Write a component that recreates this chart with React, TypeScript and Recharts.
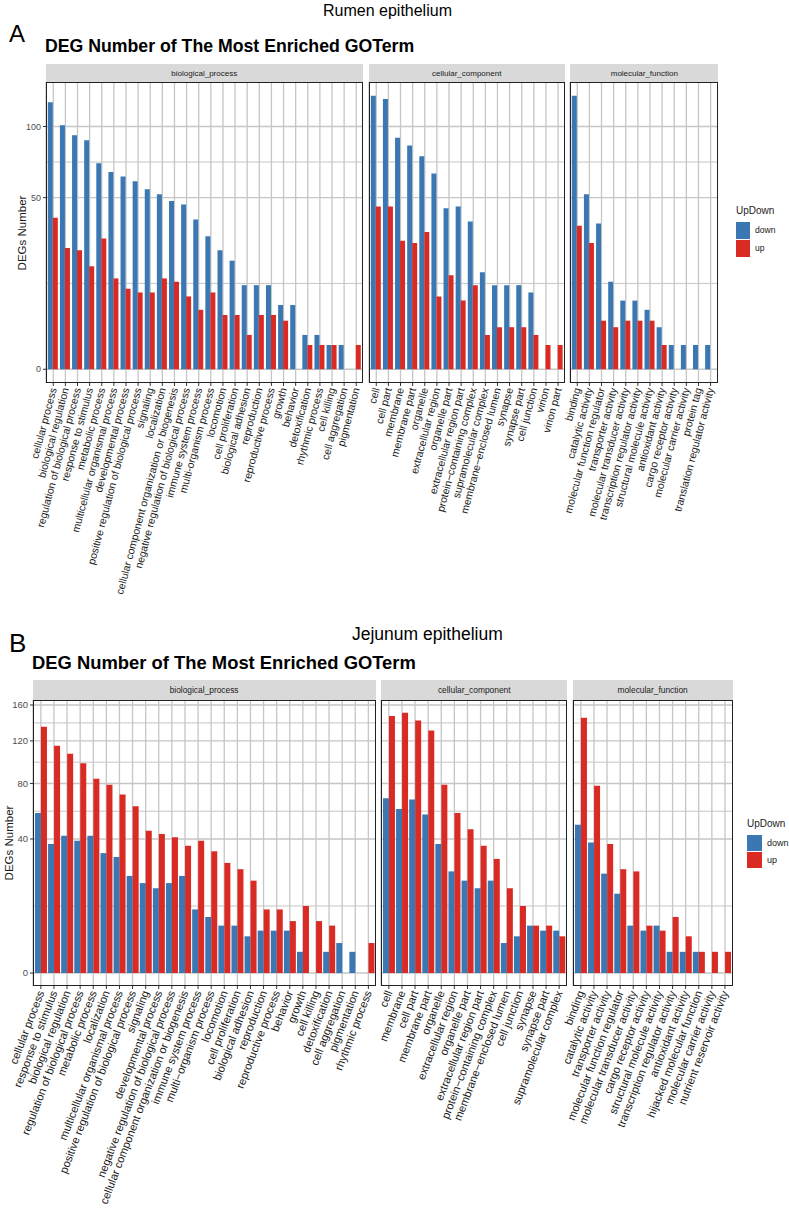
import React from "react";
import { BarChart, Bar, XAxis, YAxis, CartesianGrid } from "recharts";

// ---- Rumen epithelium (A) ----
const rumenBpNames = [
  "cellular process", "biological regulation", "regulation of biological process", "response to stimulus",
  "metabolic process", "multicellular organismal process", "developmental process",
  "positive regulation of biological process", "signaling", "localization",
  "cellular component organization or biogenesis", "negative regulation of biological process",
  "immune system process", "multi-organism process", "locomotion", "cell proliferation",
  "biological adhesion", "reproduction", "reproductive process", "growth", "behavior",
  "detoxification", "rhythmic process", "cell killing", "cell aggregation", "pigmentation",
];
const rumenBpDown = [121, 101, 93, 89, 72, 66, 63, 60, 55, 52, 48, 46, 38, 30, 24, 20, 12, 12, 12, 7, 7, 2, 2, 1, 1, 0];
const rumenBpUp = [39, 25, 24, 18, 29, 14, 11, 10, 10, 14, 13, 9, 6, 10, 5, 5, 2, 5, 5, 4, 0, 1, 1, 1, 0, 1];

const rumenCcNames = [
  "cell", "cell part", "membrane", "membrane part", "organelle", "extracellular region", "organelle part",
  "extracellular region part", "protein\u2212containing complex", "supramolecular complex",
  "membrane\u2212enclosed lumen", "synapse", "synapse part", "cell junction", "virion", "virion part",
];
const rumenCcDown = [127, 124, 91, 85, 77, 65, 44, 45, 37, 16, 12, 12, 12, 10, 0, 0];
const rumenCcUp = [45, 45, 28, 27, 32, 9, 15, 8, 12, 2, 3, 3, 3, 2, 1, 1];

const rumenMfNames = [
  "binding", "catalytic activity", "molecular function regulator", "transporter activity",
  "molecular transducer activity", "transcription regulator activity", "structural molecule activity",
  "antioxidant activity", "cargo receptor activity", "molecular carrier activity", "protein tag",
  "translation regulator activity",
];
const rumenMfDown = [127, 52, 36, 13, 8, 8, 6, 3, 1, 1, 1, 1];
const rumenMfUp = [35, 27, 4, 3, 4, 4, 4, 1, 0, 0, 0, 0];

// ---- Jejunum epithelium (B) ----
const jejBpNames = [
  "cellular process", "response to stimulus", "biological regulation", "regulation of biological process",
  "metabolic process", "localization", "multicellular organismal process",
  "positive regulation of biological process", "signaling", "developmental process",
  "negative regulation of biological process", "cellular component organization or biogenesis",
  "immune system process", "multi\u2212organism process", "locomotion", "cell proliferation",
  "biological adhesion", "reproduction", "reproductive process", "behavior", "growth", "cell killing",
  "detoxification", "cell aggregation", "pigmentation", "rhythmic process",
];
const jejBpDown = [57, 37, 42, 39, 42, 32, 30, 21, 18, 16, 18, 21, 9, 7, 5, 5, 3, 4, 4, 4, 1, 0, 1, 2, 1, 0];
const jejBpUp = [135, 115, 107, 98, 84, 79, 71, 62, 45, 43, 41, 36, 39, 33, 27, 24, 19, 9, 9, 6, 10, 6, 5, 0, 0, 2];

const jejCcNames = [
  "cell", "membrane", "cell part", "membrane part", "organelle", "extracellular region", "organelle part",
  "extracellular region part", "protein\u2212containing complex", "membrane\u2212enclosed lumen",
  "cell junction", "synapse", "synapse part", "supramolecular complex",
];
const jejCcDown = [68, 60, 67, 56, 37, 23, 19, 16, 19, 2, 3, 5, 4, 4];
const jejCcUp = [147, 151, 142, 131, 79, 57, 46, 36, 29, 16, 10, 5, 5, 3];

const jejMfNames = [
  "binding", "catalytic activity", "transporter activity", "molecular function regulator",
  "molecular transducer activity", "cargo receptor activity", "structural molecule activity",
  "transcription regulator activity", "antioxidant activity", "hijacked molecular function",
  "molecular carrier activity", "nutrient reservoir activity",
];
const jejMfDown = [49, 38, 22, 14, 5, 4, 5, 1, 1, 1, 0, 0];
const jejMfUp = [145, 78, 37, 24, 23, 5, 4, 7, 3, 1, 1, 1];

const rumenTicks = [0, 50, 100];
const rumenMinor = [12.5, 72.86];
const jejTicks = [0, 40, 80, 120, 160];
const jejMinor = [10, 58.3, 99, 139.3];

const BLUE = "#3b78b3";
const RED = "#d92a24";
const FONT = "'Liberation Sans', Arial, Helvetica, sans-serif";
const GRID = "#c6c6c6";

const RotTick = (props: any) => {
  const { x, y, payload, fs, angle } = props;
  return (
    <g transform={`translate(${x},${y})`}>
      <text
        transform={`rotate(${-angle})`}
        textAnchor="end"
        dy="0.35em"
        fontSize={fs}
        fill="#1a1a1a"
        fontFamily={FONT}
      >
        {payload.value}
      </text>
    </g>
  );
};

type FacetProps = {
  names: string[];
  down: number[];
  up: number[];
  s: number;
  left: number;
  top: number;
  plotH: number;
  xH: number;
  domain: number[];
  major: number[];
  minor: number[];
  showY: boolean;
  yW: number;
  fs: number;
  angle: number;
  yfs: number;
  strip: string;
  stripH: number;
  stripFs: number;
};

const Facet = (p: FacetProps) => {
  const n = p.names.length;
  const plotW = (n - 1 + 1.2) * p.s;
  const data = p.names.map((name, i) => ({ name, down: p.down[i], up: p.up[i] }));
  const yW = p.showY ? p.yW : 0;
  const extraL = 110; // room for the slanted labels that lean left of the panel
  return (
    <>
      <div
        style={{
          position: "absolute",
          left: p.left,
          top: p.top - p.stripH,
          width: plotW,
          height: p.stripH,
          background: "#d9d9d9",
          display: "flex",
          alignItems: "center",
          justifyContent: "center",
          fontSize: p.stripFs,
          color: "#1a1a1a",
          fontFamily: FONT,
        }}
      >
        {p.strip}
      </div>
      <div style={{ position: "absolute", left: p.left - yW - extraL, top: p.top }}>
        <BarChart
          width={plotW + yW + extraL}
          height={p.plotH + p.xH}
          data={data}
          margin={{ top: 0, right: 0, bottom: 0, left: extraL }}
          barCategoryGap="5%"
          barGap={0}
        >
          <CartesianGrid horizontal={false} stroke={GRID} strokeWidth={1.3} />
          <CartesianGrid vertical={false} horizontalValues={p.minor} stroke={GRID} strokeWidth={1} />
          <CartesianGrid vertical={false} horizontalValues={p.major} stroke={GRID} strokeWidth={1.3} />
          <XAxis
            dataKey="name"
            type="category"
            interval={0}
            height={p.xH}
            padding={{ left: 0.1 * p.s, right: 0.1 * p.s }}
            axisLine={false}
            tickSize={3}
            tickLine={{ stroke: "#333" }}
            tick={(t: any) => <RotTick {...t} fs={p.fs} angle={p.angle} />}
          />
          <YAxis
            type="number"
            scale="sqrt"
            domain={p.domain}
            allowDataOverflow
            ticks={p.major}
            hide={!p.showY}
            width={p.yW}
            axisLine={false}
            tickSize={3}
            tickLine={{ stroke: "#333" }}
            tick={{ fontSize: p.yfs, fill: "#4d4d4d", fontFamily: FONT }}
          />
          <Bar dataKey="down" fill={BLUE} isAnimationActive={false} />
          <Bar dataKey="up" fill={RED} isAnimationActive={false} />
        </BarChart>
      </div>
      <div
        style={{
          position: "absolute",
          left: p.left,
          top: p.top,
          width: plotW,
          height: p.plotH,
          border: "1px solid #222",
          boxSizing: "border-box",
          pointerEvents: "none",
        }}
      />
    </>
  );
};

const Legend = ({ left, top, kw, kh, fs, tfs }: any) => (
  <div style={{ position: "absolute", left, top, fontFamily: FONT, color: "#1a1a1a" }}>
    <div style={{ fontSize: tfs, lineHeight: 1, marginBottom: 5 }}>UpDown</div>
    {[
      ["down", BLUE],
      ["up", RED],
    ].map(([lab, c]) => (
      <div key={lab} style={{ display: "flex", alignItems: "center", height: kh + 1 }}>
        <div style={{ width: kw, height: kh, background: c }} />
        <span style={{ fontSize: fs, marginLeft: 5 }}>{lab}</span>
      </div>
    ))}
  </div>
);

const txt = (extra: React.CSSProperties): React.CSSProperties => ({
  position: "absolute",
  fontFamily: FONT,
  lineHeight: 1,
  whiteSpace: "nowrap",
  color: "#000",
  ...extra,
});

export default function App() {
  const sA = 12.12;
  const sB = 13.1;
  const gap = 5.5;
  const aBpL = 45.5;
  const aCcL = aBpL + 26.2 * sA + gap;
  const aMfL = aCcL + 16.2 * sA + gap;
  const bBpL = 32.5;
  const bCcL = bBpL + 26.2 * sB + gap;
  const bMfL = bCcL + 14.2 * sB + gap;

  const A = { top: 82, plotH: 301, xH: 235, domain: [-0.32, 140], major: rumenTicks, minor: rumenMinor, fs: 10.5, angle: 75, yfs: 9, stripH: 18, stripFs: 8 };
  const B = { top: 700, plotH: 286, xH: 233, domain: [-0.376, 166], major: jejTicks, minor: jejMinor, fs: 11.2, angle: 69, yfs: 9.5, stripH: 20, stripFs: 8.4 };

  return (
    <div style={{ position: "absolute", left: 0, top: 0, width: 789, height: 1219, background: "#fff", overflow: "hidden" }}>
      {/* Panel A */}
      <div style={txt({ left: 323, top: 3, fontSize: 16 })}>Rumen epithelium</div>
      <div style={txt({ left: 9, top: 22, fontSize: 24 })}>A</div>
      <div style={txt({ left: 45, top: 38, fontSize: 17.7, fontWeight: "bold" })}>
        DEG Number of The Most Enriched GOTerm
      </div>
      <div
        style={txt({
          left: 22.5,
          top: 232.5,
          fontSize: 11.5,
          color: "#1a1a1a",
          transform: "translate(-50%,-50%) rotate(-90deg)",
        })}
      >
        DEGs Number
      </div>
      <Facet {...A} names={rumenBpNames} down={rumenBpDown} up={rumenBpUp} s={sA} left={aBpL} showY yW={24} strip="biological_process" />
      <Facet {...A} names={rumenCcNames} down={rumenCcDown} up={rumenCcUp} s={sA} left={aCcL} showY={false} yW={0} strip="cellular_component" />
      <Facet {...A} names={rumenMfNames} down={rumenMfDown} up={rumenMfUp} s={sA} left={aMfL} showY={false} yW={0} strip="molecular_function" />
      <Legend left={736} top={206} kw={14} kh={17} fs={8.6} tfs={10} />

      {/* Panel B */}
      <div style={txt({ left: 352, top: 626, fontSize: 17.5 })}>Jejunum epithelium</div>
      <div style={txt({ left: 9, top: 630, fontSize: 26 })}>B</div>
      <div style={txt({ left: 32, top: 654, fontSize: 18.4, fontWeight: "bold" })}>
        DEG Number of The Most Enriched GOTerm
      </div>
      <div
        style={txt({
          left: 9.5,
          top: 843,
          fontSize: 11.5,
          color: "#1a1a1a",
          transform: "translate(-50%,-50%) rotate(-90deg)",
        })}
      >
        DEGs Number
      </div>
      <Facet {...B} names={jejBpNames} down={jejBpDown} up={jejBpUp} s={sB} left={bBpL} showY yW={24} strip="biological_process" />
      <Facet {...B} names={jejCcNames} down={jejCcDown} up={jejCcUp} s={sB} left={bCcL} showY={false} yW={0} strip="cellular_component" />
      <Facet {...B} names={jejMfNames} down={jejMfDown} up={jejMfUp} s={sB} left={bMfL} showY={false} yW={0} strip="molecular_function" />
      <Legend left={747} top={819} kw={15} kh={16} fs={9} tfs={10} />
    </div>
  );
}
